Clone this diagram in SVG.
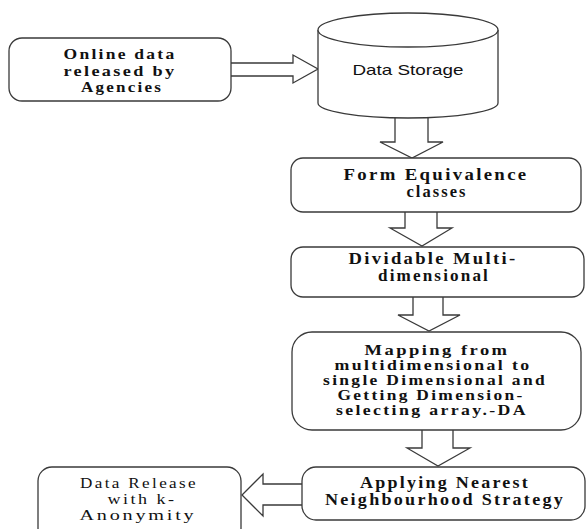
<svg xmlns="http://www.w3.org/2000/svg" width="587" height="529" viewBox="0 0 587 529">
<style>
.box{fill:#fff;stroke:#3a3a3a;stroke-width:1.3}
.arr{fill:#fff;stroke:#3a3a3a;stroke-width:1.3;stroke-linejoin:miter}
.t{font-family:"Liberation Serif","Times New Roman",serif;font-size:16px;font-weight:bold;letter-spacing:2px;fill:#111;text-anchor:middle}
.b1{font-size:15.5px}
.b4{font-size:15px}
.r{font-family:"Liberation Serif","Times New Roman",serif;font-size:14.5px;letter-spacing:2px;fill:#111;text-anchor:middle}
.s{font-family:"Liberation Sans",Arial,sans-serif;font-size:15px;fill:#111;text-anchor:middle}
</style>
<rect width="587" height="529" fill="#fff"/>
<g id="connectors">
<path class="arr" d="M231,63 L293,63 L293,55 L318,69 L293,83 L293,76 L231,76"/>
<path class="arr" d="M395,116 L395,142 L380,142 L412,158 L443,142 L428,142 L428,116"/>
<path class="arr" d="M405,212 L405,228 L390,228 L422,246 L452,228 L437,228 L437,212"/>
<path class="arr" d="M413,297 L413,315 L398,315 L429,331 L460,315 L443,315 L443,297"/>
<path class="arr" d="M422,430 L422,448 L407,448 L438,466 L470,448 L453,448 L453,430"/>
<path class="arr" d="M302,484 L263,484 L263,474 L242,495 L263,516 L263,505 L302,505"/>
</g>
<g id="online-data">
<rect class="box" x="9" y="38" width="222" height="63" rx="13"/>
<text class="t b1" x="120" y="59" textLength="113" lengthAdjust="spacingAndGlyphs">Online data</text>
<text class="t b1" x="120" y="75.5" textLength="113" lengthAdjust="spacingAndGlyphs">released by</text>
<text class="t b1" x="122" y="92" textLength="82" lengthAdjust="spacingAndGlyphs">Agencies</text>
</g>
<g id="data-storage">
<path class="box" d="M318,30 L318,103 A90,15 0 0 0 498,103 L498,30"/>
<ellipse class="box" cx="408" cy="30" rx="90" ry="17"/>
<text class="s" x="408" y="75" textLength="111" lengthAdjust="spacingAndGlyphs">Data Storage</text>
</g>
<g id="form-equivalence">
<rect class="box" x="291" y="158" width="290" height="54" rx="12"/>
<text class="t" x="436" y="180" textLength="185" lengthAdjust="spacingAndGlyphs">Form Equivalence</text>
<text class="t" x="437" y="197" textLength="61" lengthAdjust="spacingAndGlyphs">classes</text>
</g>
<g id="dividable">
<rect class="box" x="291" y="247" width="293" height="50" rx="12"/>
<text class="t" x="433" y="264" textLength="169" lengthAdjust="spacingAndGlyphs">Dividable Multi-</text>
<text class="t" x="434" y="281" textLength="112" lengthAdjust="spacingAndGlyphs">dimensional</text>
</g>
<g id="mapping">
<rect class="box" x="292" y="332" width="289" height="98" rx="20"/>
<text class="t b4" x="437" y="355" textLength="145" lengthAdjust="spacingAndGlyphs">Mapping from</text>
<text class="t b4" x="433" y="370" textLength="197" lengthAdjust="spacingAndGlyphs">multidimensional to</text>
<text class="t b4" x="435" y="385" textLength="224" lengthAdjust="spacingAndGlyphs">single Dimensional and</text>
<text class="t b4" x="431" y="400" textLength="187" lengthAdjust="spacingAndGlyphs">Getting Dimension-</text>
<text class="t b4" x="432" y="415" textLength="192" lengthAdjust="spacingAndGlyphs">selecting array.-DA</text>
</g>
<g id="applying">
<rect class="box" x="302" y="467" width="283" height="53" rx="14"/>
<text class="t" x="445" y="488" textLength="170" lengthAdjust="spacingAndGlyphs">Applying Nearest</text>
<text class="t" x="445" y="505" textLength="240" lengthAdjust="spacingAndGlyphs">Neighbourhood Strategy</text>
</g>
<g id="data-release">
<rect class="box" x="38" y="467" width="203" height="75" rx="14"/>
<text class="r" x="139" y="488" textLength="118" lengthAdjust="spacingAndGlyphs">Data Release</text>
<text class="r" x="142" y="504" textLength="69" lengthAdjust="spacingAndGlyphs">with k-</text>
<text class="r" x="138" y="520" textLength="117" lengthAdjust="spacingAndGlyphs">Anonymity</text>
</g>
</svg>
